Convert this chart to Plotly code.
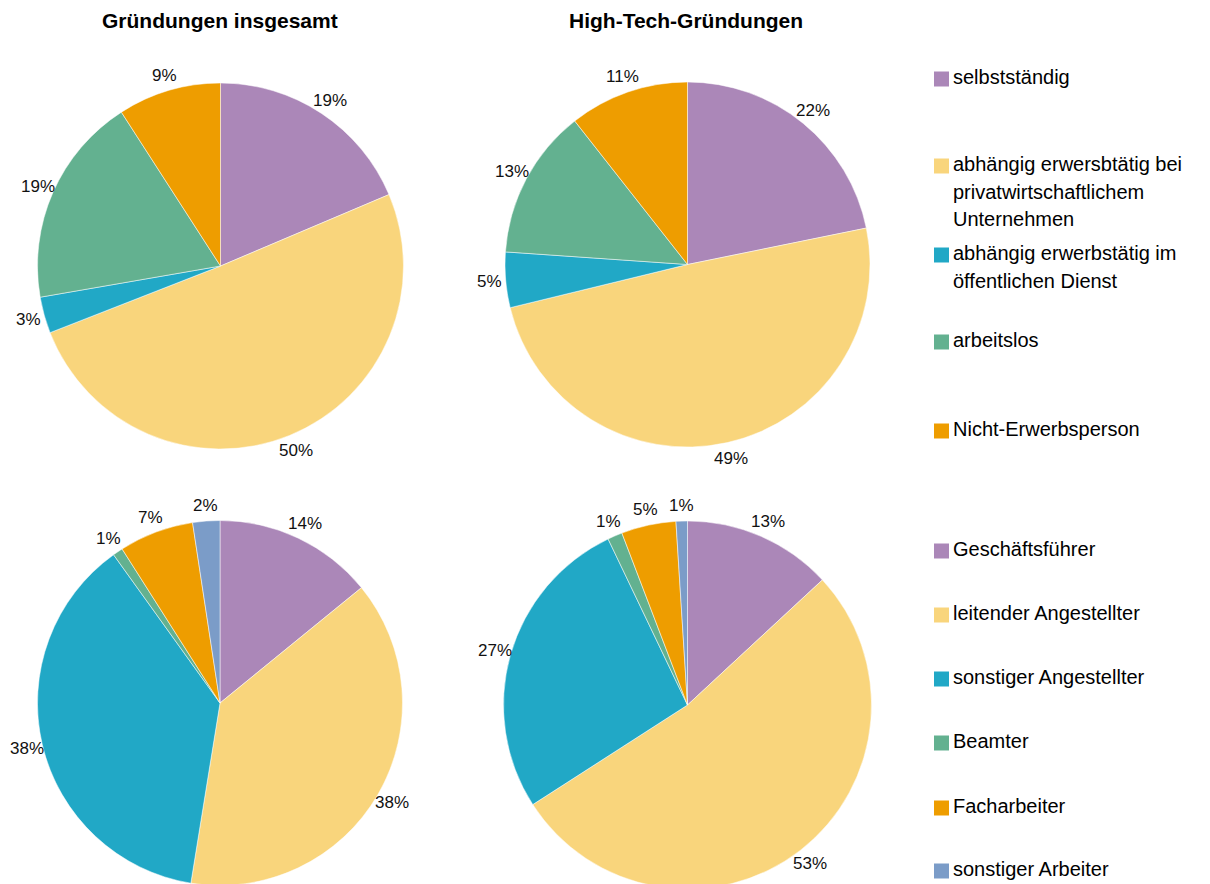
import math
import plotly.graph_objects as go

# Daten
status_labels = [
    "selbstständig",
    "abhängig erwersbtätig bei\nprivatwirtschaftlichem\nUnternehmen",
    "abhängig erwerbstätig im\nöffentlichen Dienst",
    "arbeitslos",
    "Nicht-Erwerbsperson",
]
status_gesamt = [18.6, 50.4, 3.2, 18.6, 9.1]
status_hightech = [21.8, 49.4, 4.9, 13.3, 10.6]

beruf_labels = [
    "Geschäftsführer",
    "leitender Angestellter",
    "sonstiger Angestellter",
    "Beamter",
    "Facharbeiter",
    "sonstiger Arbeiter",
]
beruf_gesamt = [14.1, 38.4, 37.5, 0.9, 6.6, 2.4]
beruf_hightech = [13.1, 52.8, 27.0, 1.3, 4.8, 1.0]

titles = ["Gründungen insgesamt", "High-Tech-Gründungen"]

colors = ["#AB87B8", "#F9D57C", "#21A8C6", "#63B190", "#EE9D00", "#7B9CC8"]

W, H = 1210, 884
OFF = 8  # body margin of the html page
FONT = "Liberation Sans, Arial, sans-serif"


def px(x):
    return (x - OFF) / W


def py(y):
    return 1 - (y - OFF) / H


fig = go.Figure()

# (labels, values, centre x, centre y, radius) in screen pixels
pies = [
    (status_labels, status_gesamt, 220.5, 266, 183),
    (status_labels, status_hightech, 687.5, 264.5, 182.5),
    (beruf_labels, beruf_gesamt, 220, 703, 182.5),
    (beruf_labels, beruf_hightech, 687.5, 705, 184),
]

annotations = []
for labels, values, cx, cy, r in pies:
    fig.add_trace(
        go.Pie(
            labels=[l.replace("\n", " ") for l in labels],
            values=values,
            marker=dict(colors=colors[: len(values)], line=dict(color="white", width=0.5)),
            sort=False,
            direction="clockwise",
            rotation=0,
            textinfo="none",
            domain=dict(x=[px(cx - r), px(cx + r)], y=[py(cy + r), py(cy - r)]),
            showlegend=False,
        )
    )
    # percentage labels just outside the slice, like Excel's "outside end"
    total = sum(values)
    cum = 0
    for v in values:
        mid = (cum + v / 2) / total * 2 * math.pi
        cum += v
        d = r + 16
        annotations.append(
            dict(
                text="%d%%" % round(v / total * 100),
                x=px(cx + d * math.sin(mid)), y=py(cy - d * math.cos(mid)),
                xref="paper", yref="paper", showarrow=False,
                xanchor="center", yanchor="middle",
                font=dict(family=FONT, size=17, color="#111"),
            )
        )

for text, cx in zip(titles, [220, 686]):
    annotations.append(
        dict(
            text="<b>%s</b>" % text, x=px(cx), y=py(21), xref="paper", yref="paper",
            showarrow=False, xanchor="center", yanchor="middle",
            font=dict(family=FONT, size=21, color="#000"),
        )
    )

shapes = []
legend_sets = [
    (status_labels, [79, 166, 255, 342, 431]),
    (beruf_labels, [551, 615, 679, 743, 808, 871]),
]
line_gap = 27.5
for labels, ys in legend_sets:
    for i, (lab, yc) in enumerate(zip(labels, ys)):
        shapes.append(
            dict(
                type="rect", xref="paper", yref="paper",
                x0=px(934), x1=px(949), y0=py(yc + 7.5), y1=py(yc - 7.5),
                fillcolor=colors[i], line=dict(width=0),
            )
        )
        for j, part in enumerate(lab.split("\n")):
            annotations.append(
                dict(
                    text=part, x=px(951), y=py(yc - 2 + j * line_gap),
                    xref="paper", yref="paper", showarrow=False,
                    xanchor="left", yanchor="middle",
                    font=dict(family=FONT, size=20, color="#000"),
                )
            )

fig.update_layout(
    width=W,
    height=H,
    margin=dict(l=0, r=0, t=0, b=0),
    paper_bgcolor="white",
    plot_bgcolor="white",
    annotations=annotations,
    shapes=shapes,
)

fig.write_html("out.html")
